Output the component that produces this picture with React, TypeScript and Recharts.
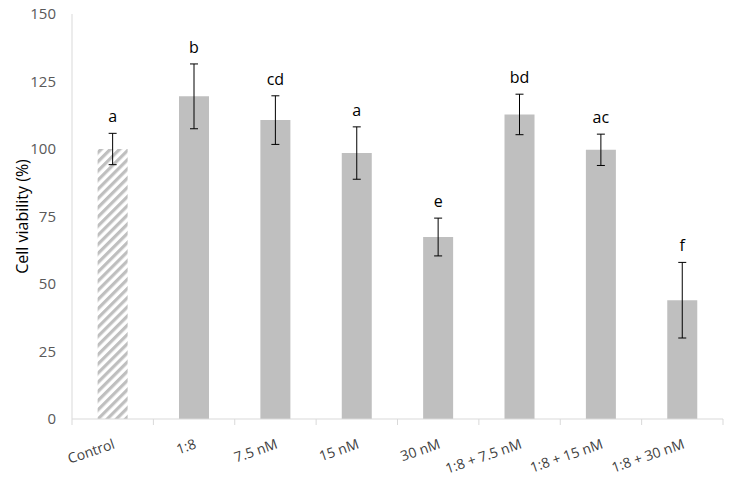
import React from "react";
import { ComposedChart, Bar, XAxis, YAxis, ErrorBar, Cell, LabelList } from "recharts";

const groups = ["Control", "1:8", "7.5 nM", "15 nM", "30 nM", "1:8 + 7.5 nM", "1:8 + 15 nM", "1:8 + 30 nM"];
const viability = [100, 119.5, 110.7, 98.5, 67.4, 112.8, 99.7, 44];
const sd = [5.8, 12, 9, 9.7, 7, 7.5, 5.8, 14];
const letters = ["a", "b", "cd", "a", "e", "bd", "ac", "f"];
const yTicks = [0, 25, 50, 75, 100, 125, 150];

const data = groups.map((g, i) => ({ name: g, value: viability[i], err: sd[i], letter: letters[i] }));

const AXIS_GREY = "#d9d9d9";
const FONT = "'Open Sans', 'Noto Sans', sans-serif";

// category label + tick mark on the left edge of each band (Excel style)
function XTick(props: any) {
  const { x, y, payload, index } = props;
  const half = payload && payload.offset ? payload.offset : 40.7;
  const last = index === groups.length - 1;
  return (
    <g>
      <line x1={x - half} y1={y} x2={x - half} y2={y + 6} stroke={AXIS_GREY} />
      {last && <line x1={x + half} y1={y} x2={x + half} y2={y + 6} stroke={AXIS_GREY} />}
      <text
        x={0}
        y={0}
        transform={`translate(${x + 3},${y + 29}) rotate(-19)`}
        textAnchor="end"
        fill="#404040"
        fontSize={14}
        fontFamily={FONT}
      >
        {payload.value}
      </text>
    </g>
  );
}

function Letter(props: any) {
  const { x, y, width, height, index, value } = props;
  const perUnit = height / viability[index];
  const top = y - sd[index] * perUnit;
  return (
    <text x={x + width / 2} y={top - 11} textAnchor="middle" fontSize={16} fontFamily={FONT} fill="#000">
      {value}
    </text>
  );
}

export default function App() {
  return (
    <div style={{ position: "absolute", left: 0, top: 0, background: "#fff" }}>
      <ComposedChart
        width={732}
        height={486}
        data={data}
        margin={{ top: 14, right: 9, bottom: 7, left: 0 }}
        barCategoryGap="31.5%"
      >
        <defs>
          <pattern id="hatch" patternUnits="userSpaceOnUse" width={6.5} height={6.5} patternTransform="rotate(45)">
            <rect width={6.5} height={6.5} fill="#fff" />
            <rect width={3.2} height={6.5} fill="#bfbfbf" />
          </pattern>
        </defs>
        <XAxis
          dataKey="name"
          height={60}
          axisLine={{ stroke: AXIS_GREY }}
          tickLine={false}
          tickSize={0}
          tickMargin={0}
          interval={0}
          tick={<XTick />}
        />
        <YAxis
          width={72}
          domain={[0, 150]}
          ticks={yTicks}
          axisLine={{ stroke: AXIS_GREY }}
          tickLine={false}
          tickSize={0}
          tickMargin={16}
          tick={{ fill: "#595959", fontSize: 15, fontFamily: FONT }}
          label={{
            value: "Cell viability (%)",
            angle: -90,
            position: "insideLeft",
            offset: 22,
            style: { textAnchor: "middle", fill: "#000", fontSize: 16, fontFamily: FONT },
          }}
        />
        <Bar dataKey="value" fill="#bfbfbf" isAnimationActive={false}>
          {data.map((d, i) => (
            <Cell key={d.name} fill={i === 0 ? "url(#hatch)" : "#bfbfbf"} />
          ))}
          <ErrorBar dataKey="err" width={4} stroke="#000" strokeWidth={1} isAnimationActive={false} />
          <LabelList dataKey="letter" content={<Letter />} />
        </Bar>
      </ComposedChart>
    </div>
  );
}
